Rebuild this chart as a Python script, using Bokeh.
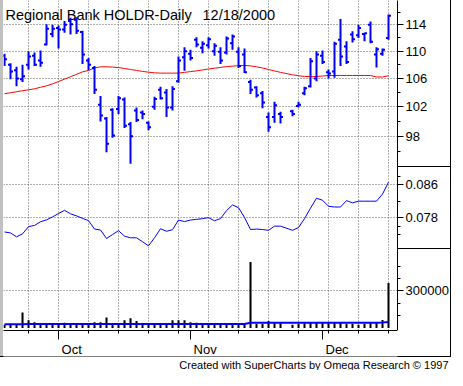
import pandas as pd
from bokeh.plotting import figure
from bokeh.models import Range1d, FixedTicker, Label, ColumnDataSource, Title
from bokeh.layouts import column
from bokeh.embed import file_html
from bokeh.resources import INLINE

# ---------------- data ----------------
weekdays = list(pd.bdate_range("2000-09-19", "2000-12-18"))
holiday = pd.Timestamp("2000-11-23")          # Thanksgiving, no session
dates = [d for d in weekdays if d != holiday]

open_ = [109.3, 108.0, 107.2, 105.9, 108.0, 109.3, 108.6, 111.0, 112.6, 113.5,
         113.3, 114.6, 114.8, 112.9, 108.6, 107.5, 102.3, 100.4, 101.6, 101.7,
         103.0, 99.6, 101.5, 101.2, 99.8, 102.0, 104.4, 104.0, 101.9, 105.6,
         109.1, 109.6, 111.7, 110.5, 110.9, 110.0, 109.9, 109.8, 111.2, 109.9,
         109.5, 105.5, 104.7, 103.9, 100.6, 100.6, 101.0, 101.4, 102.1, 103.9,
         104.9, 106.0, 109.3, 106.9, 107.0, 111.7, 110.7, 112.5, 112.4, 112.6,
         114.0, 109.5, 109.6, 112.0]
high = [109.6, 108.2, 107.7, 108.0, 110.0, 109.8, 110.1, 114.1, 114.0, 113.9,
        114.6, 115.1, 115.2, 113.1, 109.0, 107.8, 103.5, 100.6, 101.8, 103.5,
        103.3, 99.9, 101.9, 101.5, 100.0, 103.4, 104.8, 104.5, 104.9, 109.2,
        110.6, 110.2, 112.1, 111.5, 112.1, 111.2, 110.6, 112.2, 112.5, 110.6,
        110.4, 105.8, 104.9, 104.2, 101.2, 102.7, 101.3, 101.6, 102.7, 104.8,
        109.0, 110.0, 110.1, 107.3, 111.4, 114.9, 111.5, 113.0, 114.0, 112.8,
        114.5, 110.6, 110.4, 115.6]
low = [107.8, 105.9, 104.9, 105.5, 107.3, 107.8, 107.7, 110.9, 112.1, 110.4,
       112.8, 112.5, 112.6, 108.1, 107.2, 103.8, 100.0, 95.9, 97.8, 101.0,
       99.1, 94.4, 99.9, 100.3, 98.8, 101.6, 103.0, 100.6, 101.5, 105.4,
       107.1, 108.6, 110.6, 109.7, 110.4, 109.3, 108.1, 109.5, 110.2, 107.5,
       106.8, 103.8, 103.3, 101.8, 98.6, 99.8, 99.7, 100.7, 101.9, 103.6,
       104.7, 105.6, 108.1, 106.0, 106.1, 107.8, 108.1, 111.3, 112.0, 111.5,
       111.2, 107.6, 109.3, 111.7]
close = [108.8, 107.0, 106.0, 106.3, 109.2, 108.0, 108.3, 113.4, 113.4, 113.3,
         114.0, 114.1, 113.1, 109.5, 108.0, 104.4, 100.8, 97.0, 98.1, 103.2,
         99.4, 98.0, 100.2, 101.0, 99.2, 103.1, 103.2, 101.9, 104.5, 108.6,
         110.0, 109.0, 111.0, 111.1, 111.8, 110.8, 108.6, 111.9, 112.2, 107.8,
         106.9, 104.4, 103.6, 102.6, 99.2, 102.2, 100.6, 101.0, 102.3, 104.6,
         108.5, 109.5, 108.4, 106.7, 111.1, 109.2, 108.4, 111.8, 113.5, 112.7,
         111.4, 110.3, 110.2, 115.4]
price_ma = [103.83, 103.96, 104.10, 104.25, 104.38, 104.52, 104.74, 104.94, 105.22, 105.56,
            105.90, 106.25, 106.59, 106.95, 107.16, 107.51, 107.69, 107.69, 107.65, 107.58,
            107.44, 107.30, 107.16, 107.02, 106.91, 106.81, 106.77, 106.77, 106.77, 106.77,
            106.88, 106.99, 107.09, 107.23, 107.37, 107.48, 107.60, 107.72, 107.79, 107.86,
            107.89, 107.82, 107.69, 107.51, 107.30, 107.09, 106.88, 106.53, 106.39, 106.29,
            106.25, 106.29, 106.35, 106.43, 106.43, 106.43, 106.43, 106.43, 106.43, 106.43,
            106.43, 106.21, 106.21, 106.39]
indicator = [0.07457, 0.07434, 0.07341, 0.07411, 0.07586, 0.07614, 0.07702, 0.07749, 0.07819, 0.07900,
             0.07977, 0.07893, 0.07844, 0.07784, 0.07730, 0.07527, 0.07504, 0.07301, 0.07394, 0.07488,
             0.07357, 0.07317, 0.07317, 0.07224, 0.07124, 0.07317, 0.07534, 0.07474, 0.07511, 0.07744,
             0.07707, 0.07744, 0.07760, 0.07777, 0.07802, 0.07726, 0.07779, 0.07970, 0.08106, 0.08040,
             0.07807, 0.07516, 0.07527, 0.07516, 0.07497, 0.07597, 0.07597, 0.07497, 0.07562, 0.07777,
             0.08029, 0.08267, 0.08220, 0.08075, 0.08057, 0.08057, 0.08211, 0.08157, 0.08197, 0.08197,
             0.08197, 0.08197, 0.08367, 0.08654]
volume = [26000, 26000, 26000, 125000, 63000, 47000, 37000, 37000, 26000, 31000,
          42000, 31000, 37000, 37000, 31000, 47000, 47000, 84000, 37000, 31000,
          63000, 78000, 57000, 31000, 26000, 26000, 31000, 31000, 63000, 63000,
          63000, 47000, 42000, 37000, 31000, 31000, 26000, 37000, 31000, 31000,
          37000, 535000, 31000, 31000, 57000, 37000, 37000, 26000, 31000, 37000,
          42000, 47000, 37000, 37000, 42000, 47000, 31000, 31000, 26000, 31000,
          37000, 47000, 65000, 365000]
volume_ma = [29000, 29500, 30000, 30500, 31000, 31000, 31000, 31000, 31000, 31000,
             31000, 31000, 31000, 31000, 31000, 31000, 31000, 31000, 31000, 31000,
             31000, 31000, 31000, 31000, 31000, 31000, 31000, 31000, 31000, 31000,
             31000, 31000, 31000, 31000, 31000, 31000, 31000, 31000, 31000, 31000,
             31000, 42000, 42000, 42000, 42000, 42000, 42000, 42000, 42000, 42000,
             42000, 42000, 42000, 42000, 42000, 42000, 42000, 42000, 42000, 42000,
             42000, 42000, 44000, 48000]

price_ticks = [98, 102, 106, 110, 114]
price_minor = [96, 100, 104, 108, 112, 116]
ind_ticks = [0.078, 0.086]
ind_minor = [0.074, 0.076, 0.082, 0.088]
vol_ticks = [300000]
vol_minor = [100000, 200000, 400000, 500000]
month_names = ["Oct", "Nov", "Dec"]
title_text = "Regional Bank HOLDR-Daily"
date_text = "12/18/2000"
footer_text = "Created with SuperCharts by Omega Research \u00a9 1997"

# ---------------- positions (trading-day slots) ----------------
slot = {d: k for k, d in enumerate(weekdays)}
x = [slot[d] for d in dates]
weekly = [slot[d] for d in weekdays if d.weekday() == 0]
month_pos = [min(slot[d] for d in weekdays if d.month == m) for m in (10, 11, 12)]

FONT = "Liberation Sans"
W = 452
LEFT = 3
RIGHT = 55
FRAME_W = W - LEFT - RIGHT
H1, H2, H3, STRIP, FOOT = 166, 82, 82, 26, 14
GRID = "#606060"
xr = Range1d(-0.17, 65.5)


def make_fig(h, yr, top=0, bottom=0, **kw):
    p = figure(width=W, height=h + top + bottom, x_range=xr, y_range=yr, title=None,
               output_backend="svg", toolbar_location=None,
               min_border=0, min_border_left=LEFT,
               min_border_right=RIGHT, min_border_top=top, min_border_bottom=bottom,
               border_fill_color=None, background_fill_color="white",
               outline_line_color=None, **kw)
    p.xgrid.ticker = FixedTicker(ticks=weekly)
    for g in (p.xgrid, p.ygrid):
        g.grid_line_color = GRID
        g.grid_line_dash = "1 2"
        g.grid_line_width = 1
    return p


def style_axis(ax, ticks, minor, labels=None):
    ax.ticker = FixedTicker(ticks=ticks, minor_ticks=minor)
    if labels is not None:
        ax.major_label_overrides = labels
    ax.axis_line_color = "black"
    ax.major_tick_line_color = "black"
    ax.minor_tick_line_color = "black"
    ax.major_tick_in = 0
    ax.major_tick_out = 6
    ax.minor_tick_in = 0
    ax.minor_tick_out = 3
    ax.major_label_standoff = 2
    ax.major_label_text_font = FONT
    ax.major_label_text_font_size = "13px"
    ax.major_label_text_color = "black"


# ---- price pane ----
p1 = make_fig(H1, Range1d(94.06, 117.83), y_axis_type="log",
              x_axis_location=None, y_axis_location="right")
style_axis(p1.yaxis[0], price_ticks, price_minor, {t: str(t) for t in price_ticks})
src = ColumnDataSource(dict(x=x, xl=[v - 0.42 for v in x], xr=[v + 0.42 for v in x],
                            o=open_, h=high, l=low, c=close, ma=price_ma))
p1.line("x", "ma", source=src, line_color="#ff0000", line_width=1)
p1.segment(x0="x", y0="l", x1="x", y1="h", source=src, line_color="#0000ff", line_width=2)
p1.segment(x0="xl", y0="o", x1="x", y1="o", source=src, line_color="#0000ff", line_width=2)
p1.segment(x0="x", y0="c", x1="xr", y1="c", source=src, line_color="#0000ff", line_width=2)
p1.add_layout(Label(x=2, y=H1 - 14, x_units="screen", y_units="screen", text=title_text,
                    text_font=FONT, text_font_size="14.5px", text_color="black",
                    text_baseline="alphabetic"))
p1.add_layout(Label(x=199, y=H1 - 14, x_units="screen", y_units="screen", text=date_text,
                    text_font=FONT, text_font_size="14.5px", text_color="black",
                    text_baseline="alphabetic"))

# ---- indicator pane ----
p2 = make_fig(H2, Range1d(0.0706, 0.0903), x_axis_location=None, y_axis_location="right")
style_axis(p2.yaxis[0], ind_ticks, ind_minor, {t: f"{t:.3f}" for t in ind_ticks})
p2.line(x, indicator, line_color="#0000ff", line_width=1)

# ---- volume pane ----
p3 = make_fig(H3, Range1d(-21000, 645000), x_axis_location=None, y_axis_location="right")
style_axis(p3.yaxis[0], vol_ticks, vol_minor, {t: str(t) for t in vol_ticks})
p3.vbar(x=x, top=volume, bottom=0, width=0.34, fill_color="black", line_color=None)
p3.line(x, volume_ma, line_color="#0000ff", line_width=2)

# ---- time axis strip: ticks hang down from the axis line, month names below ----
p4 = make_fig(STRIP, Range1d(0, 1), bottom=FOOT, x_axis_location="above", y_axis_location=None)
p4.grid.visible = False
xa = p4.xaxis[0]
style_axis(xa, month_pos, weekly, {t: "" for t in month_pos})
xa.major_tick_out = 0
xa.minor_tick_out = 0
xa.major_tick_in = 9
xa.minor_tick_in = 3
xa.major_label_standoff = 0
xa.major_label_text_font_size = "0px"
for pos, name in zip(month_pos, month_names):
    p4.add_layout(Label(x=pos + 0.5, y=7, x_units="data", y_units="screen", text=name,
                        text_font=FONT, text_font_size="13px", text_color="black",
                        text_baseline="alphabetic", text_align="left"))
p4.add_layout(Title(text=footer_text, align="right", offset=-(RIGHT - 4), standoff=0,
                    vertical_align="bottom", text_font=FONT, text_font_size="11px",
                    text_font_style="normal", text_color="black"), "below")

# ---- window decoration (frame borders) ----
bottom_line = H1 + H2 + H3 + STRIP
layers = [
    ("#000000", "450px 0px", f"1px {bottom_line + 1}px"),
    ("#000000", f"0px {bottom_line}px", "451px 1px"),
    ("#c0c0c0", "0px 0px", f"3px {bottom_line}px"),
    ("#000000", f"397px {H1}px", "53px 1px"),
    ("#000000", f"397px {H1 + H2}px", "53px 1px"),
]
styles = {
    "background-color": "white",
    "background-image": ", ".join(f"linear-gradient({c},{c})" for c, _, _ in layers),
    "background-position": ", ".join(pp for _, pp, _ in layers),
    "background-size": ", ".join(s for _, _, s in layers),
    "background-repeat": "no-repeat",
}
layout = column(p1, p2, p3, p4, spacing=0, styles=styles)

open("out.html", "w").write(file_html(layout, INLINE))
